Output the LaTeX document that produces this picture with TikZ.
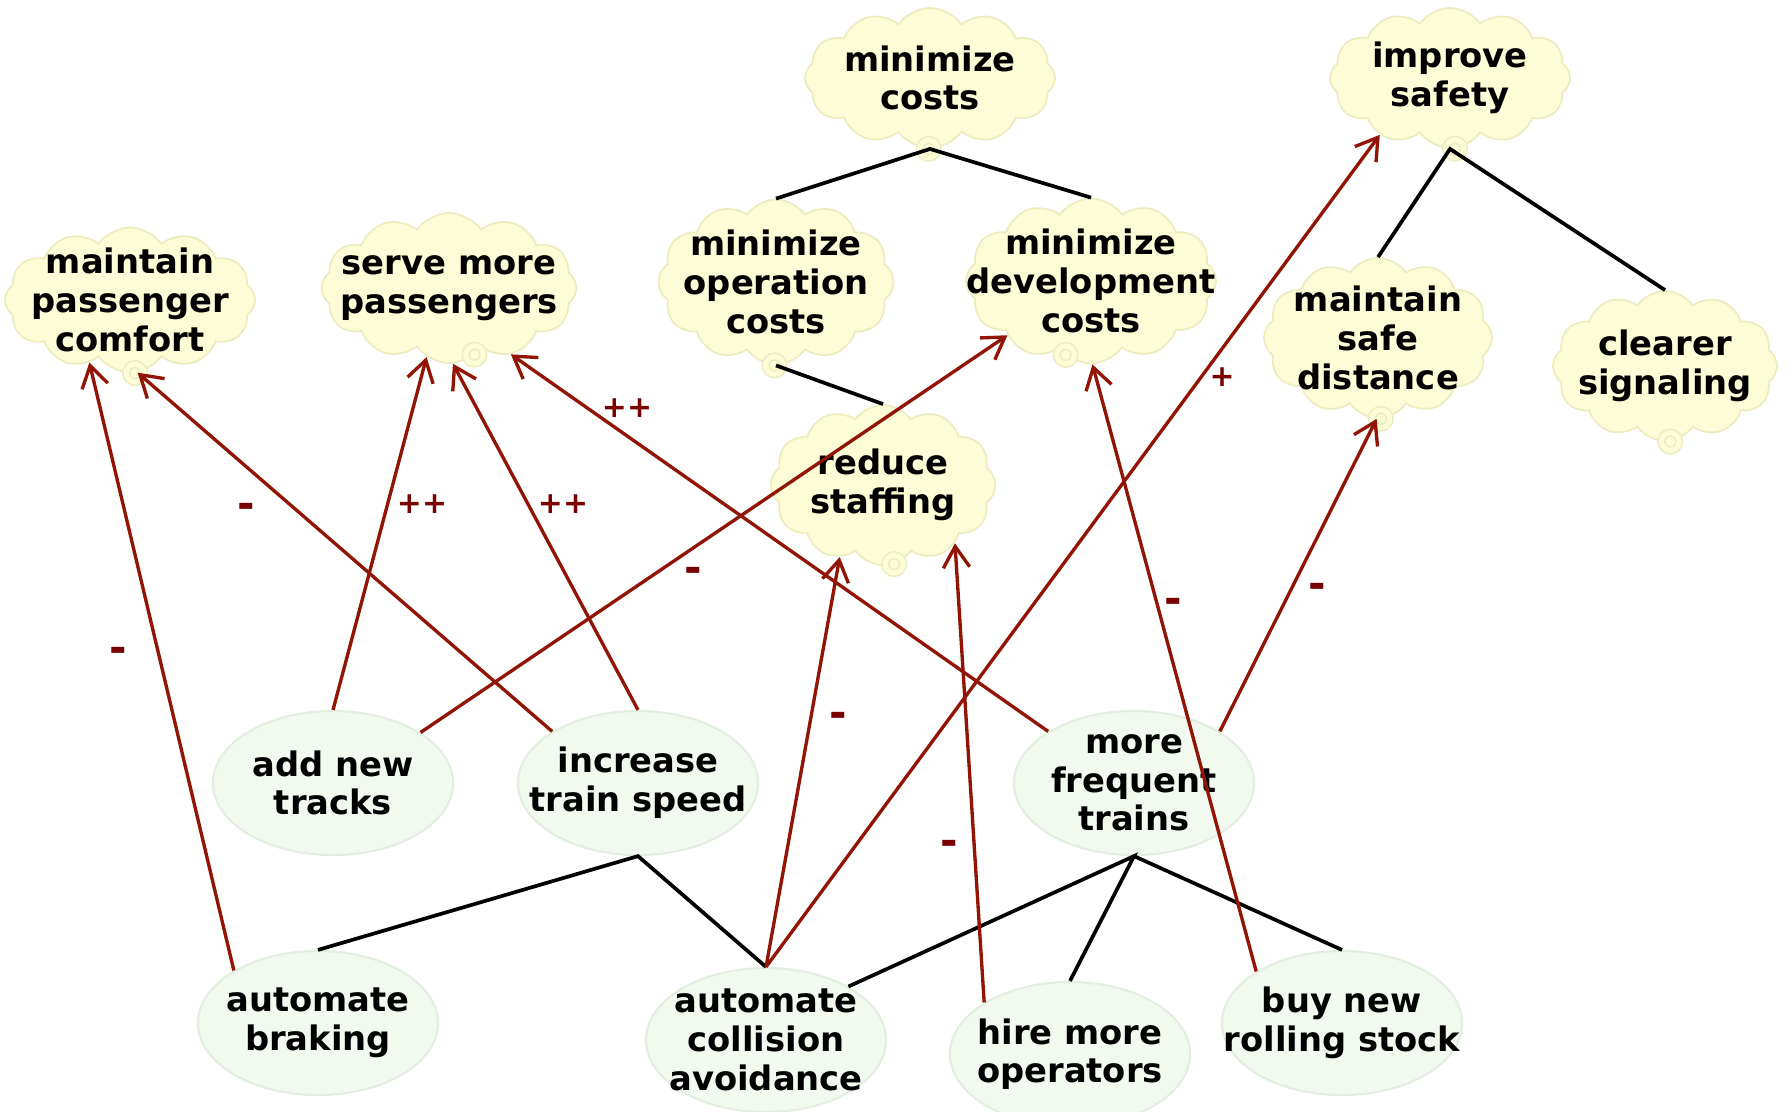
\documentclass[tikz,border=0pt]{standalone}
\usepackage{fontspec}
\setmainfont{DejaVu Sans}
\usetikzlibrary{shapes.symbols,shapes.geometric,arrows.meta}
\definecolor{goalfill}{RGB}{252,252,214}
\definecolor{goalline}{RGB}{236,236,192}
\definecolor{taskfill}{RGB}{242,250,240}
\definecolor{taskline}{RGB}{226,238,224}
\definecolor{contrib}{RGB}{145,20,5}
\definecolor{contriblbl}{RGB}{120,0,0}
\begin{document}
\begin{tikzpicture}[x=0.01cm,y=-0.01cm,
every node/.style={font=\bfseries\fontsize{9.6}{11}\selectfont,align=center},
goal/.style={cloud,cloud puffs=12,cloud puff arc=110,cloud ignores aspect,inner xsep=-0.5cm,inner ysep=-0.2cm,fill=goalfill,draw=goalline,line width=0.5pt},
task/.style={ellipse,minimum width=2.4cm,minimum height=1.44cm,inner xsep=-0.45cm,inner ysep=-0.15cm,fill=taskfill,draw=taskline,line width=0.6pt},
refine/.style={black,line width=1.05pt},
link/.style={->,contrib,line width=0.95pt},
pluslbl/.style={contriblbl,font=\bfseries\fontsize{8.5}{8.5}\selectfont},
minuslbl/.style={contriblbl,font=\bfseries\fontsize{12}{12}\selectfont},
>={Straight Barb[length=6pt,width=7.5pt]}]
\useasboundingbox (0,0) rectangle (1792,1111);
%\draw[very thin,color=gray,step=100] (0,0) grid (1792,1111);
% goals
\node[goal,minimum width=2.5cm,minimum height=1.4cm] (costs) at (930,78) {minimize\\costs};
\node[goal,minimum width=2.4cm,minimum height=1.4cm] (safety) at (1450,78) {improve\\safety};
\node[goal,minimum width=2.5cm,minimum height=1.45cm] (comfort) at (130,300) {maintain\\passenger\\comfort};
\node[goal,minimum width=2.55cm,minimum height=1.5cm] (serve) at (449,288) {serve more\\passengers};
\node[goal,minimum width=2.35cm,minimum height=1.65cm] (opcost) at (776,282) {minimize\\operation\\costs};
\node[goal,minimum width=2.5cm,minimum height=1.65cm] (devcost) at (1091,281) {minimize\\development\\costs};
\node[goal,minimum width=2.28cm,minimum height=1.6cm] (safedist) at (1378,338) {maintain\\safe\\distance};
\node[goal,minimum width=2.24cm,minimum height=1.5cm] (signal) at (1665,366) {clearer\\signaling};
\node[goal,minimum width=2.25cm,minimum height=1.6cm] (staffing) at (883,485) {reduce\\staffing};
\foreach \n/\a in {costs/269,safety/274,comfort/274,serve/291,opcost/269,devcost/251,safedist/272,signal/274,staffing/278}
\draw[goalline,fill=goalfill] (\n.\a) circle (3.5pt) (\n.\a) circle (1.6pt);
% tasks
\node[task] (tracks) at (333,783) {add new\\tracks};
\node[task] (speed) at (638,783) {increase\\train speed};
\node[task] (frequent) at (1134,783) {more\\frequent\\trains};
\node[task] (braking) at (318,1023) {automate\\braking};
\node[task] (collision) at (766,1040) {automate\\collision\\avoidance};
\node[task] (operators) at (1070,1054) {hire more\\operators};
\node[task] (rolling) at (1342,1023) {buy new\\rolling stock};
% refinements
\draw[refine] (opcost.north) -- (costs.south) -- (devcost.north);
\draw[refine] (safedist.north) -- (safety.south) -- (signal.north);
\draw[refine] (opcost.south) -- (staffing.north);
\draw[refine] (braking.north) -- (speed.south) -- (collision.north);
\draw[refine] (collision.33) -- (frequent.south) -- (operators.north);
\draw[refine] (frequent.south) -- (rolling.north);
% contributions
\draw[link] (braking.148) -- (comfort.237);
\draw[link] (speed.149) -- (comfort.276);
\draw[link] (tracks.north) -- (serve.252);
\draw[link] (speed.north) -- (serve.273);
\draw[link] (frequent.149) -- (serve.313);
\draw[link] (tracks.30) -- (devcost.213);
\draw[link] (collision.north) -- (staffing.239);
\draw[link] (collision.north) -- (safety.219);
\draw[link] (operators.149) -- (staffing.321);
\draw[link] (rolling.149) -- (devcost.271);
\draw[link] (frequent.31) -- (safedist.269);
\node[minuslbl] (l1) at (118,655) {-};
\node[minuslbl] (l2) at (246,511) {-};
\node[pluslbl] (l3) at (422,504) {++};
\node[pluslbl] (l4) at (563,504) {++};
\node[pluslbl] (l5) at (627,408) {++};
\node[minuslbl] (l6) at (693,575) {-};
\node[minuslbl] (l7) at (838,720) {-};
\node[pluslbl] (l8) at (1222,377) {+};
\node[minuslbl] (l9) at (949,848) {-};
\node[minuslbl] (l10) at (1173,606) {-};
\node[minuslbl] (l11) at (1317,591) {-};
\end{tikzpicture}
\end{document}
